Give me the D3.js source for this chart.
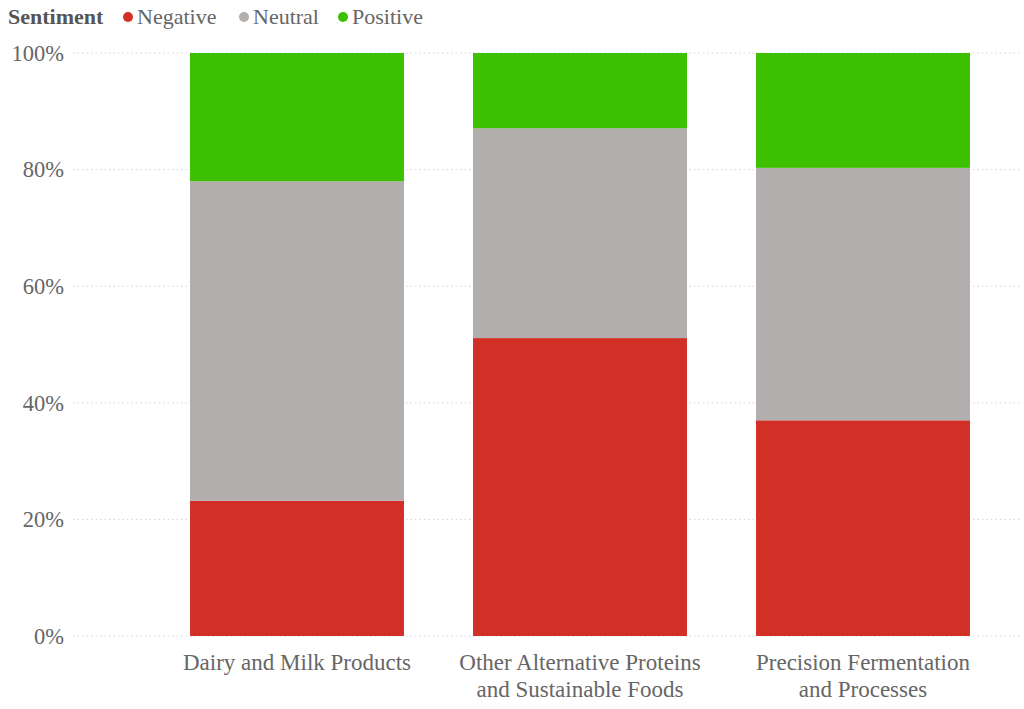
<!DOCTYPE html>
<html><head><meta charset="utf-8">
<script src="https://cdn.jsdelivr.net/npm/d3@7"></script>
<style>body{margin:0;background:#fff}svg{display:block}</style>
</head><body><svg id="c" width="1024" height="709"></svg>
<script>
const categories = ["Dairy and Milk Products", "Other Alternative Proteins and Sustainable Foods", "Precision Fermentation and Processes"];
const categoryLines = [["Dairy and Milk Products"], ["Other Alternative Proteins", "and Sustainable Foods"], ["Precision Fermentation", "and Processes"]];
const sentiments = ["Negative", "Neutral", "Positive"];
const negative = [0.232, 0.511, 0.370];
const neutral = [0.548, 0.360, 0.433];
const positive = [0.220, 0.129, 0.197];
const yTicks = [0, 0.2, 0.4, 0.6, 0.8, 1.0];
const colors = ["#D22F27", "#B3AEAE", "#3CC000"];
const FONT = "Liberation Serif, Times New Roman, serif";

const svg = d3.select("#c");
const x = d3.scaleBand().domain(categories).range([155.5, 1004.5]).paddingInner(0.244).paddingOuter(0.122);
const y = d3.scaleLinear().domain([0, 1]).range([636, 53]);

svg.append("g").selectAll("line").data(yTicks).join("line")
  .attr("x1", 73).attr("x2", 1020)
  .attr("y1", d => y(d)).attr("y2", d => y(d))
  .attr("stroke", "#d4d4d4").attr("stroke-width", 1).attr("stroke-dasharray", "1.5,3");

svg.append("g").selectAll("text").data(yTicks).join("text")
  .attr("x", 64).attr("y", d => y(d)).attr("dy", "0.35em")
  .attr("text-anchor", "end").style("font-size", "22.5px").style("font-family", FONT).attr("fill", "#666")
  .text(d => d3.format(".0%")(d));

const rows = categories.map((c, i) => ({cat: c, Negative: negative[i], Neutral: neutral[i], Positive: positive[i]}));
const stack = d3.stack().keys(sentiments)(rows);
svg.append("g").selectAll("g").data(stack).join("g")
  .attr("fill", (d, i) => colors[i])
  .selectAll("rect").data(d => d).join("rect")
  .attr("x", d => x(d.data.cat)).attr("width", x.bandwidth())
  .attr("y", d => y(d[1])).attr("height", d => y(d[0]) - y(d[1]));

const xl = svg.append("g").selectAll("text").data(categories).join("text")
  .attr("x", d => x(d) + x.bandwidth() / 2).attr("y", 670)
  .attr("text-anchor", "middle").style("font-size", "23px").style("font-family", FONT).attr("fill", "#666");
xl.each(function(d, i) {
  d3.select(this).selectAll("tspan").data(categoryLines[i]).join("tspan")
    .attr("x", x(d) + x.bandwidth() / 2).attr("dy", (t, j) => j === 0 ? 0 : 27).text(t => t);
});

const lg = svg.append("g");
lg.append("text").attr("x", 8).attr("y", 24).style("font-size", "22px").style("font-family", FONT).attr("font-weight", "bold").attr("fill", "#555").text("Sentiment");
const lx = [128, 244, 343];
sentiments.forEach((s, i) => {
  lg.append("circle").attr("cx", lx[i]).attr("cy", 17).attr("r", 5).attr("fill", colors[i]);
  lg.append("text").attr("x", lx[i] + 9).attr("y", 24).style("font-size", "22px").style("font-family", FONT).attr("fill", "#666").text(s);
});
</script></body></html>
